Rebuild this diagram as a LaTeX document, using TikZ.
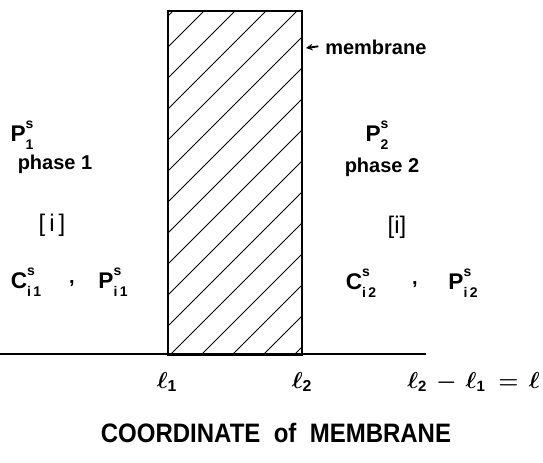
\documentclass[tikz,border=0pt]{standalone}
\usepackage{amsmath}
\usepackage{fontspec}
\setmainfont{Liberation Sans}
\usetikzlibrary{arrows.meta}
\newcommand\smallsz{\fontsize{10.5}{11}\selectfont}
\newcommand\sbsp[3]{#1\makebox[0pt][l]{\raisebox{0.6em}{\smallsz #3}}\raisebox{-0.32em}{\smallsz #2}}
\begin{document}
\begin{tikzpicture}[x=0.75pt,y=-0.75pt,
  lbl/.style={font=\bfseries\fontsize{15}{17}\selectfont, inner sep=0pt},
  sym/.style={font=\bfseries\fontsize{17}{19}\selectfont, inner sep=0pt},
  ell/.style={font=\fontsize{17}{19}\selectfont, inner sep=0pt},
  title/.style={font=\bfseries\fontsize{20}{22}\selectfont, inner sep=0pt},
  edge/.style={line width=1.6pt},
  hatch/.style={line width=0.7pt}]
\useasboundingbox (0,0) rectangle (543,462);
% membrane hatching
\begin{scope}
\clip (167,10) rectangle (301,354);
\foreach \c in {184,215,...,660} {
  \draw[hatch] (\c-354,354) -- (\c-10,10);
}
\end{scope}
\node[draw, edge, minimum width=100.5pt, minimum height=258pt, inner sep=0pt, anchor=north west] (mem) at (167,10) {};
\coordinate (base0) at (0,354);
\coordinate (base1) at (426,354);
\draw[edge] (base0) -- (base1);
% membrane label
\node[lbl, anchor=west] (memlbl) at (325,47) {membrane};
\coordinate (arrtip) at (306,48);
\draw[line width=1.4pt, -{Stealth[length=5pt,width=5pt]}] (memlbl.west) ++(-5pt,0.5pt) coordinate (arrtail) -- (arrtip);
% left phase
\node[sym] (p1s) at (22,135) {\sbsp{P}{1}{s}};
\node[lbl] (ph1) at (55,164) {phase 1};
\node[lbl, font=\fontsize{18}{20}\selectfont] (i1) at (52,225) {[\,i\,]};
\node[sym] (c1) at (26,282) {\sbsp{C}{i}{s}\raisebox{-0.32em}{\smallsz\,1}};
\node[lbl] (comma1) at (72,284) {,};
\node[sym] (pi1) at (113,282) {\sbsp{P}{i}{s}\raisebox{-0.32em}{\smallsz\,1}};
% right phase
\node[sym] (p2s) at (377,135) {\sbsp{P}{2}{s}};
\node[lbl] (ph2) at (382,167) {phase 2};
\node[lbl, font=\fontsize{18}{20}\selectfont] (i2) at (397,227) {[i]};
\node[sym] (c2) at (361,283) {\sbsp{C}{i}{s}\raisebox{-0.32em}{\smallsz\,2}};
\node[lbl] (comma2) at (415,285) {,};
\node[sym] (pi2) at (463,283) {\sbsp{P}{i}{s}\raisebox{-0.32em}{\smallsz\,2}};
% coordinates
\node[ell] (l1) at (167,382) {$\boldsymbol{\ell}_{\mathbf{1}}$};
\node[ell] (l2) at (302,382) {$\boldsymbol{\ell}_{\mathbf{2}}$};
\node[ell, font=\fontsize{16}{18}\selectfont, anchor=east] (ldiff) at (540,382) {$\boldsymbol{\ell}_{\mathbf{2}}\,\boldsymbol{-}\,\boldsymbol{\ell}_{\mathbf{1}}\;\boldsymbol{=}\,\boldsymbol{\ell}$};
\node[title] (ttl) at (276,433) {\scalebox{0.9}[1]{COORDINATE\ \ of\ \ MEMBRANE}};
\end{tikzpicture}
\end{document}
